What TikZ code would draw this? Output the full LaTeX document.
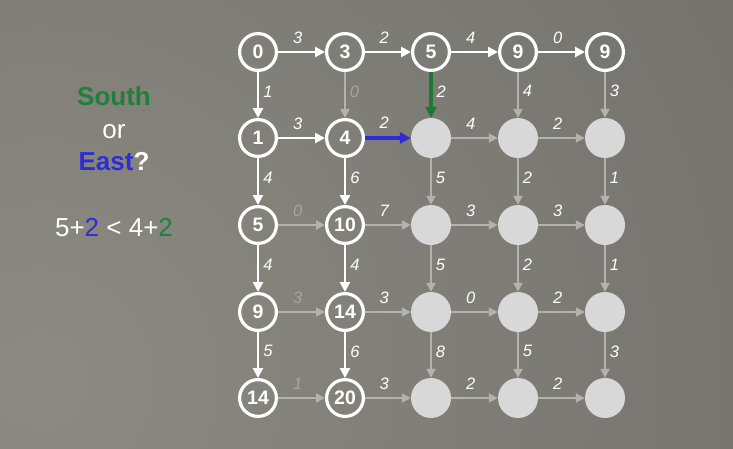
\documentclass[tikz,border=0pt]{standalone}
\usepackage{fontspec}
\setmainfont{Liberation Sans}
\usetikzlibrary{arrows.meta}
\definecolor{bgin}{RGB}{140,138,130}
\definecolor{bgout}{RGB}{103,102,98}
\definecolor{edgegray}{RGB}{178,178,175}
\definecolor{nodegray}{RGB}{216,216,216}
\definecolor{labgray}{RGB}{165,165,162}
\definecolor{sgreen}{RGB}{32,128,58}
\definecolor{agreen}{RGB}{28,120,50}
\definecolor{eblue}{RGB}{45,45,215}
\tikzset{
  done/.style={circle,draw=white,line width=3.2pt,minimum size=36.8pt,inner sep=0pt,
    text=white,font=\bfseries\fontsize{19.5}{19.5}\selectfont},
  todo/.style={circle,fill=nodegray,minimum size=40pt,inner sep=0pt},
  wedge/.style={draw=white,line width=2.6pt,-{Triangle[length=10pt,width=10pt]}},
  gedge/.style={draw=edgegray,line width=1.8pt,-{Triangle[length=9pt,width=9pt]}},
  bedge/.style={draw=eblue,line width=3.4pt,-{Triangle[length=11pt,width=11pt]}},
  gredge/.style={draw=agreen,line width=3.4pt,-{Triangle[length=11pt,width=11pt]}},
  lab/.style={font=\itshape\fontsize{16.5}{16.5}\selectfont,inner sep=1pt,pos=0.42,text=white},
  hl/.style={lab,above=6.5pt},
  vl/.style={lab,right=3pt},
  gl/.style={text=labgray},
  side/.style={anchor=base,text=white,font=\fontsize{26}{26}\selectfont},
}
\begin{document}
\begin{tikzpicture}[x=1pt,y=-1pt]
\useasboundingbox (0,0) rectangle (733,448);
\begin{scope}
  \clip (0,0) rectangle (733,448);
  \shade[inner color=bgin,outer color=bgout] (40,380) circle (1200pt);
\end{scope}
% left text
\node[side,text=sgreen,font=\bfseries\fontsize{26}{26}\selectfont] (south) at (114,105) {South};
\node[side] (or) at (114,138) {or};
\node[side,font=\bfseries\fontsize{26}{26}\selectfont] (east) at (114,170) {\textcolor{eblue}{East}?};
\node[side] (eq) at (114,236.5) {5+\textcolor{eblue}{2} < 4+\textcolor{sgreen}{2}};
% nodes
\node[done] (n00) at (258,52) {0};
\node[done] (n01) at (345,52) {3};
\node[done] (n02) at (431,52) {5};
\node[done] (n03) at (518,52) {9};
\node[done] (n04) at (605,52) {9};
\node[done] (n10) at (258,138) {1};
\node[done] (n11) at (345,138) {4};
\node[todo] (n12) at (431,138) {};
\node[todo] (n13) at (518,138) {};
\node[todo] (n14) at (605,138) {};
\node[done] (n20) at (258,225) {5};
\node[done] (n21) at (345,225) {10};
\node[todo] (n22) at (431,225) {};
\node[todo] (n23) at (518,225) {};
\node[todo] (n24) at (605,225) {};
\node[done] (n30) at (258,312) {9};
\node[done] (n31) at (345,312) {14};
\node[todo] (n32) at (431,312) {};
\node[todo] (n33) at (518,312) {};
\node[todo] (n34) at (605,312) {};
\node[done] (n40) at (258,398) {14};
\node[done] (n41) at (345,398) {20};
\node[todo] (n42) at (431,398) {};
\node[todo] (n43) at (518,398) {};
\node[todo] (n44) at (605,398) {};
% row 0 horizontal
\draw[wedge] (n00) -- node[hl]{3} (n01);
\draw[wedge] (n01) -- node[hl]{2} (n02);
\draw[wedge] (n02) -- node[hl]{4} (n03);
\draw[wedge] (n03) -- node[hl]{0} (n04);
% row 1 horizontal
\draw[wedge,line width=2pt] (n10) -- node[hl]{3} (n11);
\draw[bedge] (n11) -- node[hl]{2} (n12);
\draw[gedge] (n12) -- node[hl]{4} (n13);
\draw[gedge] (n13) -- node[hl]{2} (n14);
% row 2 horizontal
\draw[gedge] (n20) -- node[hl,gl]{0} (n21);
\draw[gedge] (n21) -- node[hl]{7} (n22);
\draw[gedge] (n22) -- node[hl]{3} (n23);
\draw[gedge] (n23) -- node[hl]{3} (n24);
% row 3 horizontal
\draw[gedge] (n30) -- node[hl,gl]{3} (n31);
\draw[gedge] (n31) -- node[hl]{3} (n32);
\draw[gedge] (n32) -- node[hl]{0} (n33);
\draw[gedge] (n33) -- node[hl]{2} (n34);
% row 4 horizontal
\draw[gedge] (n40) -- node[hl,gl]{1} (n41);
\draw[gedge] (n41) -- node[hl]{3} (n42);
\draw[gedge] (n42) -- node[hl]{2} (n43);
\draw[gedge] (n43) -- node[hl]{2} (n44);
% vertical 0->1
\draw[wedge] (n00) -- node[vl]{1} (n10);
\draw[gedge] (n01) -- node[vl,gl]{0} (n11);
\draw[gredge] (n02) -- node[vl]{2} (n12);
\draw[gedge] (n03) -- node[vl]{4} (n13);
\draw[gedge] (n04) -- node[vl]{3} (n14);
% vertical 1->2
\draw[wedge] (n10) -- node[vl]{4} (n20);
\draw[wedge] (n11) -- node[vl]{6} (n21);
\draw[gedge] (n12) -- node[vl]{5} (n22);
\draw[gedge] (n13) -- node[vl]{2} (n23);
\draw[gedge] (n14) -- node[vl]{1} (n24);
% vertical 2->3
\draw[wedge] (n20) -- node[vl]{4} (n30);
\draw[wedge] (n21) -- node[vl]{4} (n31);
\draw[gedge] (n22) -- node[vl]{5} (n32);
\draw[gedge] (n23) -- node[vl]{2} (n33);
\draw[gedge] (n24) -- node[vl]{1} (n34);
% vertical 3->4
\draw[wedge] (n30) -- node[vl]{5} (n40);
\draw[wedge] (n31) -- node[vl]{6} (n41);
\draw[gedge] (n32) -- node[vl]{8} (n42);
\draw[gedge] (n33) -- node[vl]{5} (n43);
\draw[gedge] (n34) -- node[vl]{3} (n44);
\end{tikzpicture}
\end{document}
